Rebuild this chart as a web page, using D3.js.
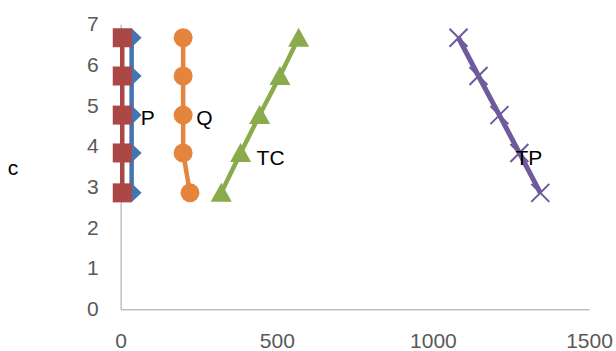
<!DOCTYPE html>
<html>
<head>
<meta charset="utf-8">
<script src="https://cdn.jsdelivr.net/npm/d3@7"></script>
<style>
  body { margin: 0; background: #fff; }
  svg { display: block; font-family: "Liberation Sans", Arial, sans-serif; }
</style>
</head>
<body>
<svg width="616" height="351"></svg>
<script>
// y values shared by all series (bottom to top)
const yValues = [2.86, 3.84, 4.77, 5.73, 6.67];

// x values per series
const pX  = [35, 35, 35, 35, 35];
const rX  = [5, 5, 5, 5, 5];
const tcX = [322, 384, 445, 510, 570];
const tpX = [1344, 1277, 1213, 1146, 1082];
const qX  = [222, 200, 200, 200, 200];

const xTicks = [0, 500, 1000, 1500];
const yTicks = [0, 1, 2, 3, 4, 5, 6, 7];

// drawing order follows the Excel series order
const series = [
  { name: "P",  xs: pX,  color: "#4674b0", marker: "diamond",  label: 2, dx: 9,  dy: 10 },
  { name: "",   xs: rX,  color: "#ab4744", marker: "square",   label: null },
  { name: "TC", xs: tcX, color: "#8aab4c", marker: "triangle", label: 1, dx: 16, dy: 12 },
  { name: "TP", xs: tpX, color: "#6e5a9c", marker: "cross",    label: 1, dx: -4, dy: 12 },
  { name: "Q",  xs: qX,  color: "#e5843c", marker: "circle",   label: 2, dx: 13, dy: 10 }
];

const svg = d3.select("svg");
const x = d3.scaleLinear().domain([0, 1500]).range([120.7, 589]);
const y = d3.scaleLinear().domain([0, 7]).range([309.3, 24.3]);

// axes
const xAxis = svg.append("g")
    .attr("transform", `translate(0,${y(0)})`)
    .call(d3.axisBottom(x).tickValues(xTicks).tickFormat(d3.format("d")).tickSize(0).tickPadding(24));
const yAxis = svg.append("g")
    .attr("transform", `translate(${x(0)},0)`)
    .call(d3.axisLeft(y).tickValues(yTicks).tickFormat(d3.format("d")).tickSize(0).tickPadding(22));

[xAxis, yAxis].forEach(a => {
  a.select(".domain").attr("stroke", "#bfbfbf").attr("stroke-width", 1.5);
  a.selectAll("text")
      .attr("fill", "#595959")
      .style("font-size", "21px")
      .style("font-family", "'Liberation Sans', Arial, sans-serif");
});
yAxis.selectAll("text").attr("dy", "0.3em");

// axis title
svg.append("text")
    .attr("x", 13).attr("y", 175)
    .attr("text-anchor", "middle")
    .style("font-size", "21px")
    .attr("fill", "#000")
    .text("c");

const markerPath = {
  diamond:  "M-10,0L0,-9.5L10,0L0,9.5Z",
  square:   "M-9.5,-9.5H9.5V9.5H-9.5Z",
  triangle: "M0,-10L10.5,9L-10.5,9Z",
  cross:    "M-9,-9L9,9M-9,9L9,-9"
};

const line = d3.line().x(d => x(d[0])).y(d => y(d[1]));

series.forEach(s => {
  const pts = s.xs.map((v, i) => [v, yValues[i]]);
  const g = svg.append("g");

  g.append("path")
      .attr("d", line(pts))
      .attr("fill", "none")
      .attr("stroke", s.color)
      .attr("stroke-width", s.marker === "cross" ? 5 : 4.5)
      .attr("stroke-linejoin", "round");

  const m = g.selectAll(".m")
      .data(pts)
      .enter().append("g")
      .attr("class", "m")
      .attr("transform", d => `translate(${x(d[0])},${y(d[1])})`);

  if (s.marker === "circle") {
    m.append("circle").attr("r", 9.5).attr("fill", s.color);
  } else if (s.marker === "cross") {
    m.append("path").attr("d", markerPath.cross)
        .attr("stroke", s.color).attr("stroke-width", 2).attr("fill", "none");
  } else {
    m.append("path").attr("d", markerPath[s.marker]).attr("fill", s.color);
  }

  if (s.label !== null) {
    const p = pts[s.label];
    svg.append("text")
        .attr("x", x(p[0]) + s.dx)
        .attr("y", y(p[1]) + s.dy)
        .style("font-size", "21px")
        .attr("fill", "#000")
        .text(s.name);
  }
});
</script>
</body>
</html>
